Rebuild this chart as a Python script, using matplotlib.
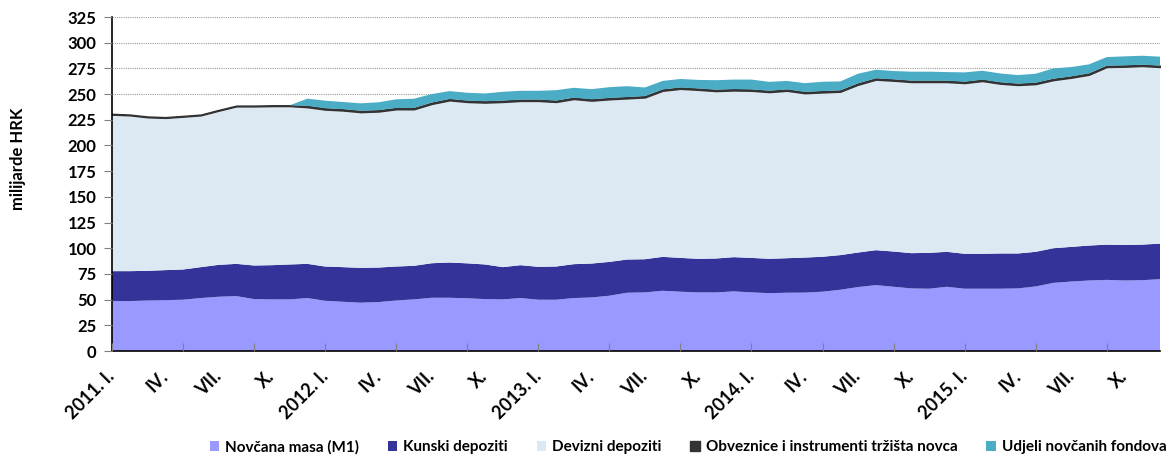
import matplotlib
matplotlib.use("Agg")
import matplotlib.pyplot as plt
import numpy as np

plt.rcParams['font.family'] = ['Lato', 'DejaVu Sans']

months = list(range(60))  # 2011 I .. 2015 XII

novcana_masa = [48.6, 48.6, 49.2, 49.5, 49.9, 51.5, 52.8, 53.4, 50.5, 50.2,
                50.2, 51.5, 48.9, 47.9, 47.0, 47.6, 49.2, 50.2, 51.8, 51.8,
                51.3, 50.5, 50.2, 51.5, 49.9, 49.9, 51.5, 52.1, 53.8, 56.7,
                57.0, 58.6, 57.7, 57.0, 57.0, 58.0, 57.0, 56.3, 56.7, 56.8,
                57.7, 59.6, 62.2, 64.1, 62.5, 60.9, 60.6, 62.5, 60.6, 60.6,
                60.6, 60.9, 62.8, 66.3, 67.6, 68.6, 69.2, 68.6, 68.9, 69.9]

kunski = [29.1, 29.1, 28.8, 29.2, 29.4, 30.1, 31.0, 31.4, 32.7, 33.3,
          34.0, 33.3, 33.3, 33.7, 33.9, 33.6, 33.0, 32.7, 33.6, 34.3,
          34.0, 33.7, 31.4, 32.0, 32.0, 32.3, 33.0, 33.0, 32.9, 32.3,
          32.3, 33.0, 32.9, 32.7, 33.0, 33.3, 33.6, 33.4, 33.6, 34.1,
          34.0, 33.7, 33.6, 34.0, 34.3, 34.3, 34.9, 34.0, 34.0, 34.0,
          34.3, 34.0, 33.7, 33.7, 33.7, 34.0, 34.3, 34.6, 34.6, 34.6]

devizni = [152.3, 151.6, 149.4, 148.1, 148.7, 147.7, 150.0, 153.2, 154.8, 154.8,
           154.1, 152.4, 152.7, 152.4, 151.5, 151.8, 153.0, 152.3, 155.0, 157.8,
           157.0, 157.5, 160.7, 159.8, 161.4, 160.1, 160.7, 158.5, 158.2, 156.8,
           157.4, 161.6, 164.5, 164.4, 162.9, 162.2, 162.6, 162.2, 162.9, 159.9,
           159.9, 159.0, 163.3, 165.9, 166.2, 166.5, 166.2, 165.2, 166.1, 168.1,
           165.2, 163.9, 163.2, 163.6, 164.6, 166.2, 172.8, 173.4, 173.8, 171.8]

obveznice = [0.8, 0.8, 0.8, 0.8, 0.8, 0.8, 0.8, 0.8, 0.8, 0.8,
             0.8, 1.3, 1.3, 1.3, 1.3, 1.3, 1.3, 1.3, 1.3, 1.3,
             1.3, 1.3, 1.3, 1.3, 1.3, 1.3, 1.3, 1.3, 1.3, 1.3,
             1.3, 1.3, 1.3, 1.3, 1.3, 1.3, 1.3, 1.3, 1.3, 1.3,
             1.3, 1.3, 1.3, 1.3, 1.3, 1.3, 1.3, 1.3, 1.3, 1.3,
             1.3, 1.3, 1.3, 1.3, 1.3, 1.3, 1.3, 1.3, 1.3, 1.3]

udjeli = [0.0, 0.0, 0.0, 0.0, 0.0, 0.0, 0.0, 0.0, 0.0, 0.0,
          0.0, 7.0, 7.4, 7.0, 7.3, 7.7, 8.4, 9.0, 8.3, 7.7,
          7.7, 7.6, 8.6, 8.6, 8.6, 10.2, 9.6, 9.9, 10.5, 10.6,
          8.4, 8.3, 8.3, 8.4, 9.3, 9.3, 9.6, 8.7, 8.3, 8.5,
          9.1, 8.7, 9.4, 8.4, 8.1, 8.8, 8.8, 8.4, 9.1, 8.7,
          8.7, 8.4, 8.8, 10.1, 9.1, 8.8, 8.4, 8.8, 8.7, 8.8]

series_names = ["Novčana masa (M1)", "Kunski depoziti", "Devizni depoziti",
                "Obveznice i instrumenti tržišta novca", "Udjeli novčanih fondova"]
colors = ["#9999FF", "#333399", "#DDE9F2", "#333333", "#4BACC6"]

tick_labels = ["2011. I.", "IV.", "VII.", "X.",
               "2012. I.", "IV.", "VII.", "X.",
               "2013. I.", "IV.", "VII.", "X.",
               "2014. I.", "IV.", "VII.", "X.",
               "2015. I.", "IV.", "VII.", "X."]
label_positions = list(range(0, 60, 3))
y_ticks = list(range(0, 326, 25))

fig = plt.figure(figsize=(11.76, 4.57), dpi=100)
ax = fig.add_axes([112 / 1176, 1 - 351 / 457, (1160 - 112) / 1176, (351 - 17) / 457])
ax.set_axisbelow(False)

for yv in y_ticks[1:]:
    ax.axhline(yv, linestyle=(0, (1, 1)), color="#999999", linewidth=0.8, zorder=1)

polys = ax.stackplot(months, novcana_masa, kunski, devizni, obveznice, udjeli,
                     colors=colors, labels=series_names, linewidth=0, zorder=2)
polys[3].set_edgecolor("#333333")
polys[3].set_linewidth(1.0)

ax.set_xlim(0, 59)
ax.set_ylim(0, 325)
ax.set_yticks(y_ticks)

for sp in ["top", "right"]:
    ax.spines[sp].set_visible(False)
ax.spines["left"].set_color("black")
ax.spines["bottom"].set_color("black")
ax.spines["left"].set_linewidth(1.2)
ax.spines["bottom"].set_linewidth(1.2)

# x: tick marks every 4 months, labels every 3 months
ax.xaxis.remove_overlapping_locs = False
ax.set_xticks(list(range(0, 60, 4)))
ax.set_xticklabels([])
ax.tick_params(axis="x", which="major", direction="in", length=6, color="#808080")
ax.set_xticks(label_positions, minor=True)
ax.set_xticklabels(tick_labels, minor=True, rotation=45, ha="right", va="center",
                   rotation_mode="anchor", fontsize=13, fontweight="bold")
ax.tick_params(axis="x", which="minor", length=0, pad=16)

ax.tick_params(axis="y", direction="out", length=6, color="#808080",
               labelsize=12, pad=5)
for lab in ax.get_yticklabels():
    lab.set_fontweight("bold")

fig.text(18 / 1176, 1 - 159 / 457, "milijarde HRK", rotation=90, ha="center", va="center",
         fontsize=12, fontweight="bold")

handles, labels = ax.get_legend_handles_labels()
fig.legend(handles, labels, loc="center", bbox_to_anchor=(688 / 1176, 1 - 447 / 457),
           ncol=5, frameon=False, prop={"weight": "bold", "size": 11},
           handlelength=0.6, handleheight=0.6, handletextpad=0.4, columnspacing=1.9)

fig.savefig("out.png", dpi=100)
